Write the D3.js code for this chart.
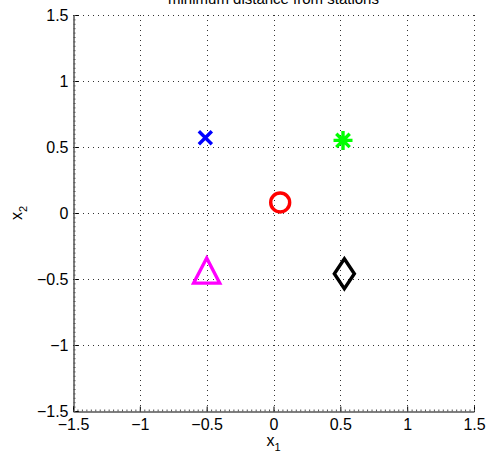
<!DOCTYPE html>
<html>
<head>
<meta charset="utf-8">
<script src="https://cdn.jsdelivr.net/npm/d3@7"></script>
<style>
  body { margin: 0; background: #fff; }
  text { font-family: "Liberation Sans", Arial, sans-serif; }
</style>
</head>
<body>
<div id="chart"></div>
<script>
// station positions
const stations = ['x', 'asterisk', 'circle', 'triangle', 'diamond'];
const stationX = [-0.51, 0.52, 0.05, -0.5, 0.53];
const stationY = [0.57, 0.55, 0.08, -0.44, -0.46];
const stationColor = ['#0000ff', '#00ff00', '#ff0000', '#ff00ff', '#000000'];
const tickValues = [-1.5, -1, -0.5, 0, 0.5, 1, 1.5];
const titleText = 'minimum distance from stations';

const width = 486, height = 462;
const margin = { left: 73, right: 12, top: 15, bottom: 51 };

const svg = d3.select('#chart').append('svg')
  .attr('width', width)
  .attr('height', height);

const x = d3.scaleLinear().domain([-1.5, 1.5]).range([margin.left, width - margin.right]);
const y = d3.scaleLinear().domain([-1.5, 1.5]).range([height - margin.bottom, margin.top]);

const fmt = d => (d < 0 ? '\u2212' + Math.abs(d) : String(d));

// dotted grid
const grid = svg.append('g').attr('stroke', '#333').attr('stroke-width', 1)
  .attr('stroke-dasharray', '1,4');
grid.selectAll('.gx').data(tickValues.slice(1)).join('line')
  .attr('x1', d => Math.round(x(d)) + 0.5).attr('x2', d => Math.round(x(d)) + 0.5)
  .attr('y1', y(1.5)).attr('y2', y(-1.5));
grid.selectAll('.gy').data(tickValues.slice(1)).join('line')
  .attr('y1', d => Math.round(y(d)) + 0.5).attr('y2', d => Math.round(y(d)) + 0.5)
  .attr('x1', x(-1.5)).attr('x2', x(1.5));

// minor ticks
const minor = d3.range(-45, 46).map(i => i / 30);

const xAxis = svg.append('g')
  .attr('transform', `translate(0,${Math.round(y(-1.5)) + 0.5})`)
  .call(d3.axisBottom(x).tickValues(tickValues).tickFormat(fmt).tickSize(-5).tickPadding(7));
svg.append('g')
  .attr('transform', `translate(0,${Math.round(y(-1.5)) + 0.5})`)
  .call(d3.axisBottom(x).tickValues(minor).tickFormat('').tickSize(-2))
  .call(g => g.select('.domain').remove())
  .selectAll('line').attr('stroke', '#555');

const yAxis = svg.append('g')
  .attr('transform', `translate(${Math.round(x(-1.5)) + 0.5},0)`)
  .call(d3.axisLeft(y).tickValues(tickValues).tickFormat(fmt).tickSize(-5).tickPadding(5));
svg.append('g')
  .attr('transform', `translate(${Math.round(x(-1.5)) + 0.5},0)`)
  .call(d3.axisLeft(y).tickValues(minor).tickFormat('').tickSize(-2))
  .call(g => g.select('.domain').remove())
  .selectAll('line').attr('stroke', '#555');

[xAxis, yAxis].forEach(g => {
  g.select('.domain').attr('stroke', '#000');
  g.selectAll('text').attr('font-size', 16).attr('fill', '#000');
});
yAxis.selectAll('text').attr('dy', '0.35em');

// markers
function markerPath(kind) {
  const p = d3.path();
  if (kind === 'triangle') {
    p.moveTo(0, -13); p.lineTo(13, 12); p.lineTo(-13, 12); p.closePath();
    return p.toString();
  }
  if (kind === 'diamond') {
    p.moveTo(0, -15); p.lineTo(10, 0); p.lineTo(0, 15); p.lineTo(-10, 0); p.closePath();
    return p.toString();
  }
  if (kind === 'circle') return d3.symbol(d3.symbolCircle, Math.PI * 90)();
  if (kind === 'x') {
    p.moveTo(-6.5, -6.5); p.lineTo(6.5, 6.5); p.moveTo(6.5, -6.5); p.lineTo(-6.5, 6.5);
    return p.toString();
  }
  // asterisk
  for (let k = 0; k < 4; k++) {
    const a = k * Math.PI / 4;
    p.moveTo(-9.5 * Math.sin(a), -9.5 * Math.cos(a));
    p.lineTo(9.5 * Math.sin(a), 9.5 * Math.cos(a));
  }
  return p.toString();
}

svg.append('g').selectAll('path').data(stations).join('path')
  .attr('transform', (d, i) => `translate(${x(stationX[i])},${y(stationY[i])})`)
  .attr('d', d => markerPath(d))
  .attr('fill', 'none')
  .attr('stroke', (d, i) => stationColor[i])
  .attr('stroke-width', 3.4);

// labels
svg.append('text').attr('x', x(0)).attr('y', 4).attr('text-anchor', 'middle')
  .attr('font-size', 15).text(titleText);

const xl = svg.append('text').attr('x', x(0)).attr('y', 446).attr('text-anchor', 'middle')
  .attr('font-size', 16);
xl.append('tspan').text('x');
xl.append('tspan').attr('font-size', 11).attr('dy', 5).text('1');

const yl = svg.append('text')
  .attr('transform', `translate(22,${y(0)}) rotate(-90)`)
  .attr('text-anchor', 'middle').attr('font-size', 16);
yl.append('tspan').text('x');
yl.append('tspan').attr('font-size', 11).attr('dy', 5).text('2');
</script>
</body>
</html>
